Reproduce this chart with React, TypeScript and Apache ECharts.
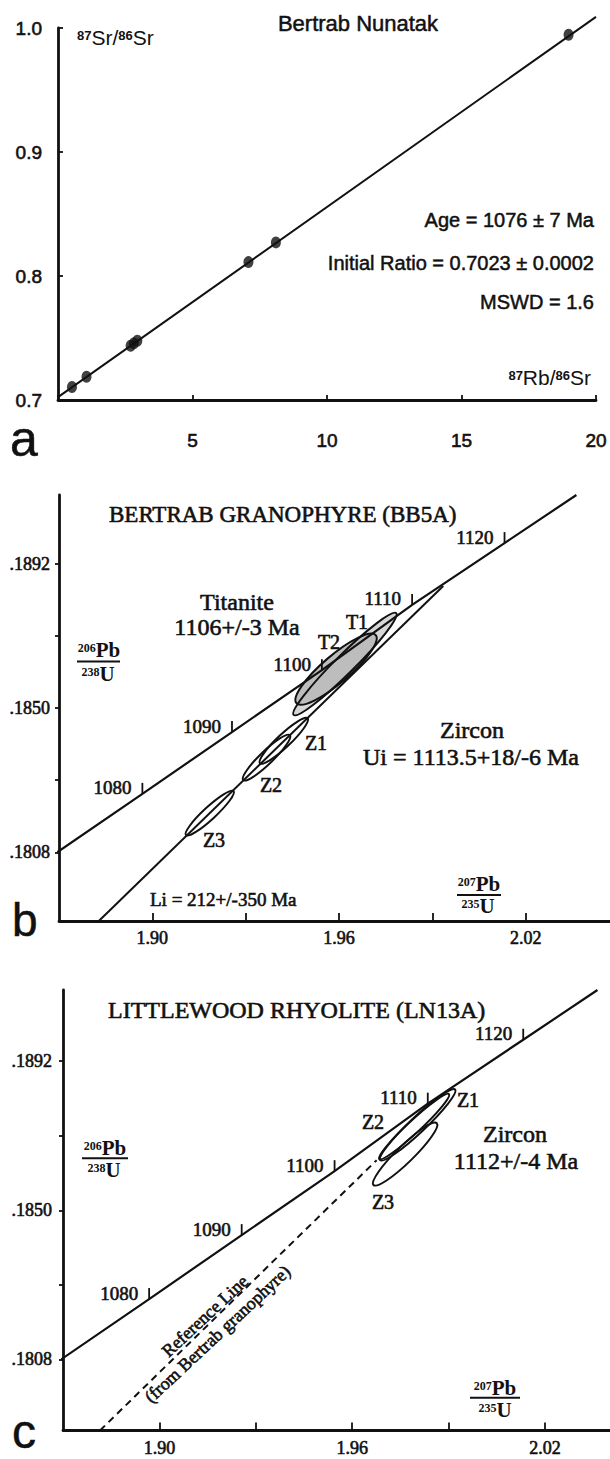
import React, { useEffect, useRef } from 'react';
import * as echarts from 'echarts';

// ---------- Panel a : Rb-Sr isochron (Bertrab Nunatak) ----------
const rbSrX = [0.52, 1.06, 2.70, 2.82, 2.95, 7.08, 8.10, 18.98];
const srSrY = [0.7105, 0.7187, 0.7437, 0.7457, 0.7478, 0.8112, 0.8271, 0.9946];
const isochronX = [0, 20];
const isochronY = [0.7023, 1.009];
const aXLabelValues = [5, 10, 15, 20];
const aStats = ['Age = 1076 ± 7 Ma', 'Initial Ratio = 0.7023 ± 0.0002', 'MSWD = 1.6'];

// ---------- Concordia (shared by panels b and c) ----------
const concordiaX = [1.8694, 1.8968, 1.9256, 1.9545, 1.9835, 2.0132, 2.0363];
const concordiaY = [0.1808, 0.1825, 0.1843, 0.1861, 0.1880, 0.1898, 0.1912];
const concordiaAges = ['', '1080', '1090', '1100', '1110', '1120', ''];

const pbXTicks = [1.90, 1.93, 1.96, 1.99, 2.02];
const pbXLabels = [1.90, 1.96, 2.02];
const pbYTicks = [0.1808, 0.1829, 0.1850, 0.1871, 0.1892];
const pbYLabels = [0.1808, 0.1850, 0.1892];

// ---------- Panel b : Bertrab granophyre ----------
const discordiaX = [1.8828, 1.9935];
const discordiaY = [0.1788, 0.18855];
const bNames = ['Z3', 'Z2', 'Z1', 'T1', 'T2'];
const bX1 = [1.9108, 1.9292, 1.9346, 1.9454, 1.9463];
const bY1 = [0.18130, 0.18290, 0.18339, 0.18480, 0.18514];
const bX2 = [1.9261, 1.9442, 1.9499, 1.9784, 1.9718];
const bY2 = [0.18258, 0.18421, 0.18470, 0.18776, 0.18712];
const bWidth = [0.19, 0.2, 0.2, 0.13, 0.26];

// ---------- Panel c : Littlewood rhyolite ----------
const refLineX = [1.8815, 1.9676];
const refLineY = [0.1788, 0.18641];
const cNames = ['Z3', 'Z2', 'Z1'];
const cX1 = [1.9666, 1.9684, 1.9687];
const cY1 = [0.18571, 0.18644, 0.18641];
const cX2 = [1.9863, 1.9901, 1.9920];
const cY2 = [0.18745, 0.18827, 0.18840];
const cWidth = [0.19, 0.13, 0.15];

const SANS = '"Liberation Sans", Arial, sans-serif';
const SERIF = '"Liberation Serif", "Times New Roman", serif';
const INK = '#111';

const shadeFor = (name: string) => (name === 'T2' ? '#bdbdbd' : name === 'T1' ? '#d6d6d6' : '#ffffff');

function pairs(xs: number[], ys: number[]) {
  return xs.map((x, i) => [x, ys[i]]);
}

function ellipseRows(x1: number[], y1: number[], x2: number[], y2: number[], w: number[]) {
  return x1.map((_, i) => [x1[i], y1[i], x2[i], y2[i], w[i]]);
}

function ellipseSeries(gridIdx: number, rows: number[][], names: string[], mode: 'fill' | 'stroke') {
  return {
    type: 'custom',
    xAxisIndex: gridIdx,
    yAxisIndex: gridIdx,
    silent: true,
    encode: { x: [0, 2], y: [1, 3] },
    data: rows,
    renderItem: (params: any, api: any) => {
      const a = api.coord([api.value(0), api.value(1)]);
      const b = api.coord([api.value(2), api.value(3)]);
      const dx = b[0] - a[0];
      const dy = b[1] - a[1];
      const rx = Math.hypot(dx, dy) / 2;
      const ry = rx * api.value(4);
      const name = names[params.dataIndex];
      return {
        type: 'ellipse',
        x: (a[0] + b[0]) / 2,
        y: (a[1] + b[1]) / 2,
        rotation: -Math.atan2(dy, dx),
        shape: { cx: 0, cy: 0, rx, ry },
        style:
          mode === 'fill'
            ? { fill: shadeFor(name), stroke: null, lineWidth: 0 }
            : { fill: null, stroke: INK, lineWidth: 2 },
      };
    },
  };
}

function ageTickSeries(gridIdx: number) {
  const idx = concordiaAges.map((a, i) => (a ? i : -1)).filter((i) => i >= 0);
  return {
    type: 'custom',
    xAxisIndex: gridIdx,
    yAxisIndex: gridIdx,
    silent: true,
    data: idx.map((i) => [concordiaX[i], concordiaY[i]]),
    renderItem: (params: any, api: any) => {
      const p = api.coord([api.value(0), api.value(1)]);
      const label = concordiaAges[idx[params.dataIndex]];
      return {
        type: 'group',
        children: [
          {
            type: 'line',
            shape: { x1: p[0], y1: p[1], x2: p[0], y2: p[1] - 11 },
            style: { stroke: INK, lineWidth: 1.8 },
          },
          {
            type: 'text',
            x: p[0] - 11,
            y: p[1] - 6,
            style: {
              text: label,
              fill: INK,
              stroke: INK,
              lineWidth: 0.6,
              font: `19px ${SERIF}`,
              align: 'right',
              verticalAlign: 'middle',
              textAlign: 'right',
              textVerticalAlign: 'middle',
            },
          },
        ],
      };
    },
  };
}

function lineSeries(gridIdx: number, xs: number[], ys: number[], width: number, dashed = false, clip = true) {
  return {
    type: 'line',
    xAxisIndex: gridIdx,
    yAxisIndex: gridIdx,
    data: pairs(xs, ys),
    symbol: 'none',
    silent: true,
    clip,
    lineStyle: { color: INK, width, type: dashed ? [7, 5] : 'solid' },
  };
}

function txt(text: string, x: number, y: number, size: number, family: string, align = 'center', extra: any = {}) {
  return {
    type: 'text',
    x,
    y,
    silent: true,
    ...extra,
    style: {
      text,
      fill: INK,
      stroke: INK,
      lineWidth: family === SERIF ? 0.6 : 0.5,
      font: `${size}px ${family}`,
      align,
      verticalAlign: 'middle',
      textAlign: align,
      textVerticalAlign: 'middle',
    },
  };
}

function richSup(parts: [string, string][], x: number, y: number, size: number, family: string, align: string, supScale: number) {
  return {
    type: 'text',
    x,
    y,
    silent: true,
    style: {
      text: parts.map(([s, m]) => `{s|${s}}{m|${m}}`).join(''),
      align,
      verticalAlign: 'middle',
      textAlign: align,
      textVerticalAlign: 'middle',
      rich: {
        s: {
          fontSize: Math.round(size * supScale),
          fontFamily: family,
          fill: INK,
          fontWeight: 'bold',
          verticalAlign: 'top',
          lineHeight: Math.round(size * supScale),
        },
        m: {
          fontSize: size,
          fontFamily: family,
          fill: INK,
          fontWeight: family === SERIF ? 'bold' : 'normal',
          lineHeight: Math.round(size * 0.78),
        },
      },
    },
  };
}

function bar(x1: number, x2: number, y: number) {
  return { type: 'line', silent: true, shape: { x1, y1: y, x2, y2: y }, style: { stroke: INK, lineWidth: 2 } };
}

function pbXAxis(gridIndex: number, max: number) {
  return {
    type: 'value',
    gridIndex,
    min: 1.87,
    max,
    axisLine: { show: true, onZero: false, lineStyle: { color: INK, width: 2.8 } },
    axisTick: { show: true, inside: true, length: 8, customValues: pbXTicks, lineStyle: { color: INK, width: 1.8 } },
    axisLabel: {
      customValues: pbXLabels,
      formatter: (v: number) => v.toFixed(2),
      fontFamily: SERIF,
      fontSize: 18,
      color: INK,
      textBorderColor: INK,
      textBorderWidth: 0.6,
      margin: 8,
    },
    splitLine: { show: false },
  };
}

function pbYAxis(gridIndex: number, margin: number) {
  return {
    type: 'value',
    gridIndex,
    min: 0.1788,
    max: 0.1912,
    axisLine: { show: true, onZero: false, lineStyle: { color: INK, width: 2.8 } },
    axisTick: { show: true, inside: false, length: 4, customValues: pbYTicks, lineStyle: { color: INK, width: 1.8 } },
    axisLabel: {
      customValues: pbYLabels,
      formatter: (v: number) => v.toFixed(4).replace(/^0/, ''),
      fontFamily: SERIF,
      fontSize: 18,
      color: INK,
      textBorderColor: INK,
      textBorderWidth: 0.6,
      margin,
    },
    splitLine: { show: false },
  };
}

export default function App() {
  const ref = useRef<HTMLDivElement>(null);
  useEffect(() => {
    if (!ref.current) return;
    const chart = echarts.init(ref.current, undefined, { renderer: 'svg' });
    const bRows = ellipseRows(bX1, bY1, bX2, bY2, bWidth);
    const cRows = ellipseRows(cX1, cY1, cX2, cY2, cWidth);
    const deg = Math.PI / 180;

    chart.setOption({
      animation: false,
      backgroundColor: '#ffffff',
      grid: [
        { left: 58, top: 28, width: 538, height: 372, containLabel: false },
        { left: 59, top: 495, width: 551, height: 426, containLabel: false },
        { left: 63, top: 990, width: 547, height: 440.5, containLabel: false },
      ],
      xAxis: [
        {
          type: 'value',
          gridIndex: 0,
          min: 0,
          max: 20,
          interval: 5,
          axisLine: { show: true, onZero: false, lineStyle: { color: INK, width: 2.8 } },
          axisTick: { show: true, inside: true, length: 5, lineStyle: { color: INK, width: 1.8 } },
          axisLabel: {
            customValues: aXLabelValues,
            formatter: (v: number) => String(v),
            fontFamily: SANS,
            fontSize: 19,
            color: INK,
            textBorderColor: INK,
            textBorderWidth: 0.6,
            margin: 31,
          },
          splitLine: { show: false },
        },
        pbXAxis(1, 2.0471),
        pbXAxis(2, 2.0402),
      ],
      yAxis: [
        {
          type: 'value',
          gridIndex: 0,
          min: 0.7,
          max: 1.0,
          interval: 0.1,
          axisLine: { show: true, onZero: false, lineStyle: { color: INK, width: 2.8 } },
          axisTick: { show: true, inside: true, length: 5, lineStyle: { color: INK, width: 1.8 } },
          axisLabel: {
            formatter: (v: number) => v.toFixed(1),
            fontFamily: SANS,
            fontSize: 19,
            color: INK,
            textBorderColor: INK,
            textBorderWidth: 0.6,
            margin: 16,
          },
          splitLine: { show: false },
        },
        pbYAxis(1, 9),
        pbYAxis(2, 11),
      ],
      series: [
        // panel a
        lineSeries(0, isochronX, isochronY, 2, false, false),
        {
          type: 'scatter',
          xAxisIndex: 0,
          yAxisIndex: 0,
          data: pairs(rbSrX, srSrY),
          symbol: 'circle',
          symbolSize: [10, 12],
          itemStyle: { color: INK },
          silent: true,
        },
        // panel b
        lineSeries(1, concordiaX, concordiaY, 2.2),
        lineSeries(1, discordiaX, discordiaY, 2),
        ellipseSeries(1, bRows, bNames, 'fill'),
        ellipseSeries(1, bRows, bNames, 'stroke'),
        ageTickSeries(1),
        // panel c
        lineSeries(2, concordiaX, concordiaY, 2.2),
        lineSeries(2, refLineX, refLineY, 2, true),
        ellipseSeries(2, cRows, cNames, 'fill'),
        ellipseSeries(2, cRows, cNames, 'stroke'),
        ageTickSeries(2),
      ],
      graphic: [
        // ---- panel a ----
        txt('Bertrab Nunatak', 358, 23, 22, SANS),
        txt(aStats[0], 594, 220, 20, SANS, 'right'),
        txt(aStats[1], 594, 263, 20, SANS, 'right'),
        txt(aStats[2], 594, 302, 20, SANS, 'right'),
        richSup([['87', 'Sr/'], ['86', 'Sr']], 77, 37, 21, SANS, 'left', 0.6),
        richSup([['87', 'Rb/'], ['86', 'Sr']], 591, 377, 21, SANS, 'right', 0.6),
        txt('a', 10, 439, 50, SANS, 'left'),
        // ---- panel b ----
        txt('BERTRAB GRANOPHYRE (BB5A)', 109, 514, 23, SERIF, 'left'),
        txt('Titanite', 237, 602, 24, SERIF),
        txt('1106+/-3 Ma', 237, 627, 24, SERIF),
        txt('Zircon', 472, 730, 24, SERIF),
        txt('Ui = 1113.5+18/-6 Ma', 471, 757, 24, SERIF),
        txt('Li = 212+/-350 Ma', 150, 899, 19, SERIF, 'left'),
        txt('Z1', 316, 743, 20, SERIF),
        txt('Z2', 271, 785, 20, SERIF),
        txt('Z3', 214, 840, 20, SERIF),
        txt('T2', 329, 642, 20, SERIF),
        txt('T1', 357, 622, 20, SERIF),
        richSup([['206', 'Pb']], 99, 650, 21, SERIF, 'center', 0.55),
        bar(77, 120, 661.5),
        richSup([['238', 'U']], 98, 674, 21, SERIF, 'center', 0.55),
        richSup([['207', 'Pb']], 479, 884, 21, SERIF, 'center', 0.55),
        bar(457, 501, 895),
        richSup([['235', 'U']], 478, 906, 21, SERIF, 'center', 0.55),
        txt('b', 12, 920, 46, SANS, 'left'),
        // ---- panel c ----
        txt('LITTLEWOOD RHYOLITE (LN13A)', 108, 1010, 24, SERIF, 'left'),
        txt('Zircon', 515, 1134, 24, SERIF),
        txt('1112+/-4 Ma', 516, 1161, 24, SERIF),
        txt('Z1', 468, 1100, 20, SERIF),
        txt('Z2', 373, 1122, 20, SERIF),
        txt('Z3', 383, 1202, 20, SERIF),
        txt('Reference Line', 205, 1316, 18, SERIF, 'center', { rotation: 43 * deg }),
        txt('(from Bertrab granophyre)', 217.5, 1334, 18, SERIF, 'center', { rotation: 43 * deg }),
        richSup([['206', 'Pb']], 105, 1148, 21, SERIF, 'center', 0.55),
        bar(82, 128, 1158.3),
        richSup([['238', 'U']], 104, 1170, 21, SERIF, 'center', 0.55),
        richSup([['207', 'Pb']], 495, 1388, 21, SERIF, 'center', 0.55),
        bar(470, 520, 1397.7),
        richSup([['235', 'U']], 495, 1410, 21, SERIF, 'center', 0.55),
        txt('c', 12, 1431, 48, SANS, 'left'),
      ],
    });
    return () => chart.dispose();
  }, []);
  return (
    <div
      ref={ref}
      style={{ position: 'absolute', left: 0, top: 0, width: 610, height: 1459, background: '#fff' }}
    />
  );
}
